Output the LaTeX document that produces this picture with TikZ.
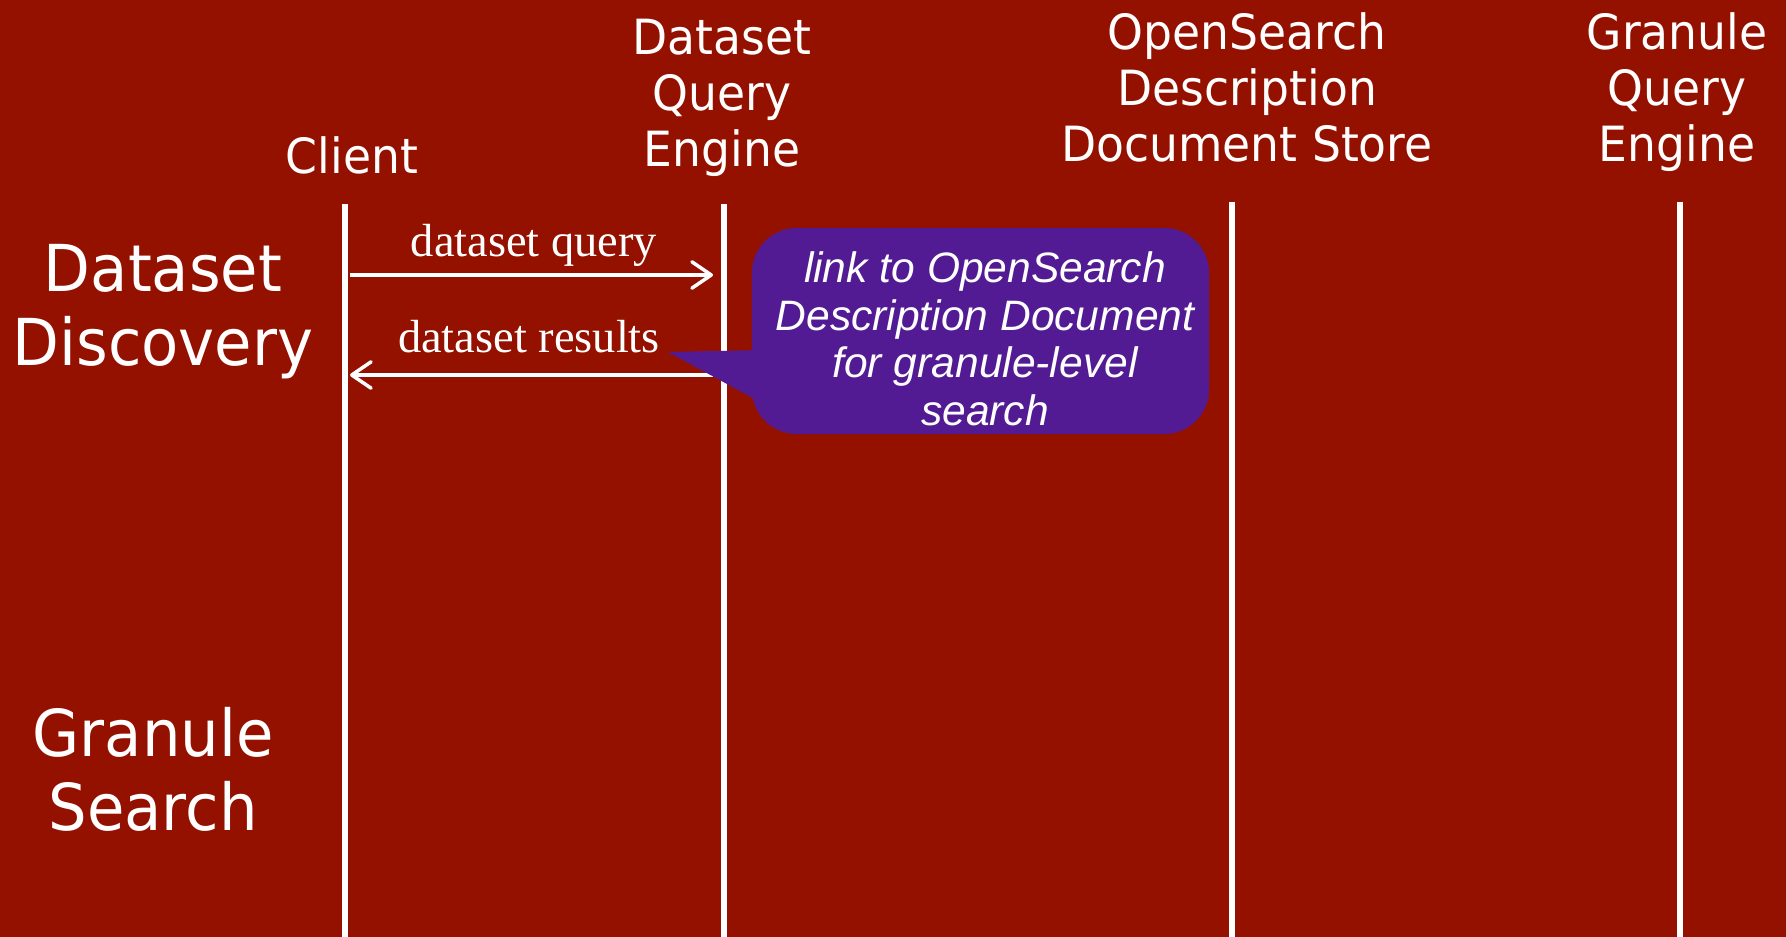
\documentclass[tikz,border=0pt]{standalone}
\usepackage{fontspec}
\setmainfont{Liberation Serif}
\newfontfamily\hdrfont{DejaVu Sans}[FakeStretch=0.94]
\newfontfamily\callfont{Liberation Sans}
\usetikzlibrary{arrows.meta}
\definecolor{bgred}{HTML}{941100}
\definecolor{grape}{HTML}{531B93}
\tikzset{
  header/.style={text=white, font=\hdrfont\fontsize{13.8pt}{15.9pt}\selectfont, align=center, inner sep=0pt},
  phase/.style={text=white, font=\hdrfont\fontsize{18.4pt}{21pt}\selectfont, align=center, inner sep=0pt},
  msglabel/.style={text=white, font=\fontsize{13.2pt}{16pt}\selectfont, inner sep=0pt, anchor=base},
  lifeline/.style={draw=white, line width=1.7pt},
  msg/.style={draw=white, line width=1pt, -{Straight Barb[length=5.5pt,width=7.5pt,line cap=round,line join=round]}},
  callbox/.style={fill=grape, rounded corners=0.45cm, inner sep=0pt},
  calltext/.style={text=white, font=\callfont\itshape\fontsize{12.1pt}{13.5pt}\selectfont, align=center, inner sep=0pt}
}
\begin{document}
\begin{tikzpicture}[x=0.01cm, y=-0.01cm]
\useasboundingbox[fill=bgred] (0,0) rectangle (1786,937);

% headers
\node[header] (hclient) at (352,155) {Client};
\node[header] (hdqe) at (722,98) {Dataset\\Query\\Engine};
\node[header] (hosdd) at (1247,87) {OpenSearch\\Description\\Document Store};
\node[header] (hgqe) at (1677,92) {Granule\\Query\\Engine};

% phases
\node[phase] (pdd) at (163,312) {Dataset\\Discovery};
\node[phase] (pgs) at (153,769) {Granule\\Search};

% lifelines
\coordinate (lc1) at (345,204); \coordinate (lc2) at (345,940);
\coordinate (ld1) at (724,204); \coordinate (ld2) at (724,940);
\coordinate (lo1) at (1232,202); \coordinate (lo2) at (1232,940);
\coordinate (lg1) at (1680,202); \coordinate (lg2) at (1680,940);
\draw[lifeline] (lc1) -- (lc2);
\draw[lifeline] (ld1) -- (ld2);
\draw[lifeline] (lo1) -- (lo2);
\draw[lifeline] (lg1) -- (lg2);

% messages
\coordinate (q1) at (350,275); \coordinate (q2) at (713,275);
\coordinate (r1) at (713,375); \coordinate (r2) at (350,375);
\draw[msg] (q1) -- (q2);
\draw[msg] (r1) -- (r2);
\node[msglabel] (lq) at (534,257) {dataset query};
\node[msglabel] (lr) at (529,353) {dataset results};

% callout
\node[callbox, minimum width=4.57cm, minimum height=2.06cm] (callout) at (980.5,331) {};
\coordinate (tip) at (668,352);
\fill[grape] (762,350) -- (tip) -- (762,403) -- cycle;
\node[calltext] (ctext) at (985,339) {link to OpenSearch\\Description Document\\for granule-level\\search};
\end{tikzpicture}
\end{document}
